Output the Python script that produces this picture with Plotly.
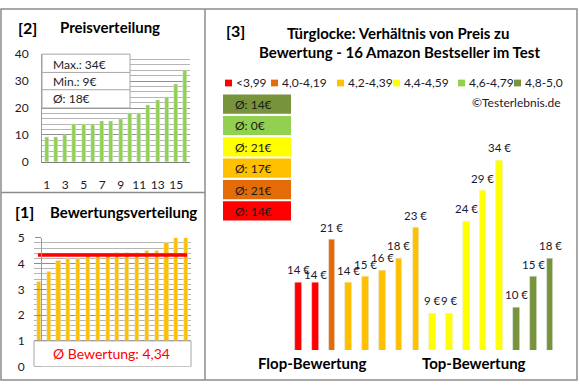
import plotly.graph_objects as go

# ---------------- data ----------------
# products in the order of panel [3] (grouped by rating band, ascending price)
prices = [14, 14, 21, 14, 15, 16, 18, 23, 9, 9, 24, 29, 34, 10, 15, 18]
ratings = [3.3, 3.7, 4.1, 4.2, 4.2, 4.3, 4.3, 4.3, 4.4, 4.4, 4.4, 4.5, 4.5, 4.8, 5.0, 5.0]
band_of_product = [0, 0, 1, 2, 2, 2, 2, 2, 3, 3, 3, 3, 3, 5, 5, 5]
band_labels = ["<3,99", "4,0-4,19", "4,2-4,39", "4,4-4,59", "4,6-4,79", "4,8-5,0"]
band_colors = ["#FF0000", "#E36C09", "#FFC000", "#FFFF00", "#92D050", "#77933C"]
price_ticks = [0, 10, 20, 30, 40]
rank_ticks = [1, 3, 5, 7, 9, 11, 13, 15]
rating_ticks = [0, 1, 2, 3, 4, 5]

W, H = 580, 390
FONT = "Lato"
GRAY = "#8c8c8c"


def px(x):
    return x / W


def py(y):
    return 1 - y / H


def dxd(a, b):
    return [a / W, b / W]


def dyd(top, bottom):
    return [1 - bottom / H, 1 - top / H]


n = len(prices)
sorted_prices = sorted(prices)
sorted_ratings = sorted(ratings)
idx = list(range(1, n + 1))
mean_price = sum(prices) / n
mean_rating = sum(ratings) / n

fig = go.Figure()

# panel [2] price distribution
fig.add_trace(go.Bar(x=idx, y=sorted_prices, marker_color="#92D050", width=0.45,
                     xaxis="x", yaxis="y", showlegend=False, hoverinfo="skip"))
# panel [1] rating distribution
fig.add_trace(go.Bar(x=idx, y=sorted_ratings, marker_color="#FFC000", width=0.42,
                     xaxis="x2", yaxis="y2", showlegend=False, hoverinfo="skip"))
fig.add_trace(go.Scatter(x=[0.9, 16.1], y=[mean_rating, mean_rating], mode="lines",
                         line=dict(color="#FF0000", width=3.5),
                         xaxis="x2", yaxis="y2", showlegend=False, hoverinfo="skip"))
# panel [3] price vs rating
fig.add_trace(go.Bar(x=idx, y=prices, marker_color=[band_colors[b] for b in band_of_product],
                     width=0.4, xaxis="x3", yaxis="y3", showlegend=False, hoverinfo="skip"))

tickfont = dict(family=FONT, size=12, color="#1a1a2e")

fig.update_layout(
    width=W, height=H, margin=dict(l=0, r=0, t=0, b=0),
    paper_bgcolor="white", plot_bgcolor="white", bargap=0,
    font=dict(family=FONT, color="black"),
    xaxis=dict(domain=dxd(42, 190), range=[0.5, 16.5], tickvals=rank_ticks,
               showgrid=False, showline=True, linecolor="#7f7f7f", ticks="",
               tickfont=tickfont, ticklabelstandoff=12, fixedrange=True),
    yaxis=dict(domain=dyd(48, 160), range=[0, 40], tickvals=price_ticks,
               showgrid=True, gridcolor="#8f8f8f", gridwidth=1,
               minor=dict(dtick=2, showgrid=True, gridcolor="#b5b5b5", gridwidth=1),
               showline=True, linecolor="#9a9a9a", ticks="", zeroline=False,
               tickfont=tickfont, ticklabelstandoff=10, fixedrange=True),
    xaxis2=dict(domain=dxd(34, 191), range=[0.5, 16.5], showticklabels=False,
                showgrid=False, showline=False, ticks="", fixedrange=True),
    yaxis2=dict(domain=dyd(239, 373), range=[0, 5], tickvals=rating_ticks,
                showgrid=True, gridcolor="#8f8f8f", gridwidth=1,
                minor=dict(dtick=0.2, showgrid=True, gridcolor="#b5b5b5", gridwidth=1),
                showline=True, linecolor="#9a9a9a", ticks="outside", ticklen=6,
                tickcolor="#8c8c8c", zeroline=False,
                tickfont=tickfont, ticklabelstandoff=8, fixedrange=True),
    xaxis3=dict(domain=dxd(289.9, 558.4), range=[0.5, 16.5], visible=False, fixedrange=True),
    yaxis3=dict(domain=dyd(120, 355.7), range=[3, 40], visible=False, fixedrange=True),
)

shapes = []
ann = []

# frame
shapes.append(dict(type="rect", xref="paper", yref="paper", x0=px(1), x1=px(577),
                   y0=py(387), y1=py(1), line=dict(color=GRAY, width=1.5)))
shapes.append(dict(type="line", xref="paper", yref="paper", x0=px(205), x1=px(205),
                   y0=py(387), y1=py(1), line=dict(color=GRAY, width=1.5)))
shapes.append(dict(type="line", xref="paper", yref="paper", x0=px(1), x1=px(205),
                   y0=py(192), y1=py(192), line=dict(color=GRAY, width=1.5)))

# info box panel [2]
shapes.append(dict(type="rect", xref="paper", yref="paper", x0=px(42), x1=px(130),
                   y0=py(104), y1=py(48), fillcolor="white", line=dict(color="#a6a6a6", width=1)))
for yy in (67, 85):
    shapes.append(dict(type="line", xref="paper", yref="paper", x0=px(42), x1=px(130),
                       y0=py(yy), y1=py(yy), line=dict(color="#a6a6a6", width=1)))
info = [("Max.: %d€" % max(prices), 58.5), ("Min.: %d€" % min(prices), 76.5),
        ("Ø: %d€" % round(mean_price), 94)]
for t, yy in info:
    ann.append(dict(text=t, xref="paper", yref="paper", x=px(51), y=py(yy),
                    xanchor="left", yanchor="middle", showarrow=False,
                    font=dict(family=FONT, size=12, color="#222")))

# box panel [1]
shapes.append(dict(type="rect", xref="x2 domain", yref="y2", x0=0, x1=1, y0=0, y1=1,
                   fillcolor="white", line=dict(color="#a6a6a6", width=1)))
ann.append(dict(text="Ø Bewertung: " + ("%.2f" % mean_rating).replace(".", ","),
                xref="paper", yref="paper", x=px(111), y=py(359), xanchor="center",
                yanchor="middle", showarrow=False,
                font=dict(family=FONT, size=14, color="#FF0000")))

# titles
title_font = dict(family=FONT, size=15, color="black", weight="bold")
ann.append(dict(text="[2]", xref="paper", yref="paper", x=px(16), y=py(20), xanchor="left",
                yanchor="middle", showarrow=False, font=dict(family=FONT, size=16, color="black", weight="bold")))
ann.append(dict(text="Preisverteilung", xref="paper", yref="paper", x=px(58), y=py(20),
                xanchor="left", yanchor="middle", showarrow=False, font=title_font))
ann.append(dict(text="[1]", xref="paper", yref="paper", x=px(13), y=py(212), xanchor="left",
                yanchor="middle", showarrow=False, font=dict(family=FONT, size=16, color="black", weight="bold")))
ann.append(dict(text="Bewertungsverteilung", xref="paper", yref="paper", x=px(48), y=py(212),
                xanchor="left", yanchor="middle", showarrow=False, font=title_font))
ann.append(dict(text="[3]", xref="paper", yref="paper", x=px(224), y=py(23), xanchor="left",
                yanchor="middle", showarrow=False, font=dict(family=FONT, size=16, color="black", weight="bold")))
ann.append(dict(text="Türglocke: Verhältnis von Preis zu", xref="paper", yref="paper",
                x=px(398), y=py(26), xanchor="center", yanchor="middle", showarrow=False,
                font=title_font))
ann.append(dict(text="Bewertung - %d Amazon Bestseller im Test" % n, xref="paper", yref="paper",
                x=px(399), y=py(46), xanchor="center", yanchor="middle", showarrow=False,
                font=title_font))

# legend row
leg_x = [225, 271, 337, 393, 458, 514]
for i, lab in enumerate(band_labels):
    x0 = leg_x[i]
    shapes.append(dict(type="rect", xref="paper", yref="paper", x0=px(x0), x1=px(x0 + 7),
                       y0=py(81.5), y1=py(74.5), fillcolor=band_colors[i], line=dict(width=0)))
    ann.append(dict(text=lab.replace("<", "&lt;"), xref="paper", yref="paper", x=px(x0 + 9),
                    y=py(78), xanchor="left", yanchor="middle", showarrow=False,
                    font=dict(family=FONT, size=12, color="#1a1a2e")))
ann.append(dict(text="©Testerlebnis.de", xref="paper", yref="paper", x=px(563), y=py(98),
                xanchor="right", yanchor="middle", showarrow=False,
                font=dict(family=FONT, size=12, color="#1a1a2e")))

# band average boxes
for k, b in enumerate(reversed(range(len(band_labels)))):
    vals = [p for p, bb in zip(prices, band_of_product) if bb == b]
    avg = round(sum(vals) / len(vals)) if vals else 0
    top = 90 + k * 22.2
    shapes.append(dict(type="rect", xref="paper", yref="paper", x0=px(223), x1=px(291),
                       y0=py(top + 20), y1=py(top), fillcolor=band_colors[b], line=dict(width=0)))
    ann.append(dict(text="Ø: %d€" % avg, xref="paper", yref="paper", x=px(233), y=py(top + 10.5),
                    xanchor="left", yanchor="middle", showarrow=False,
                    font=dict(family=FONT, size=12, color="#1a1a1a")))

# value labels panel [3] (slightly smaller so neighbouring labels crowd less)
label_shift = [5, 0, 4, 4, 4, 4, 4, 4, 4, 4, 4, 4, 4, 4, 4, 4]
for i, p in enumerate(prices):
    ann.append(dict(text="%d €" % p, xref="x3", yref="y3", x=i + 1, y=p, xanchor="center",
                    yanchor="bottom", yshift=label_shift[i], showarrow=False,
                    font=dict(family=FONT, size=11.5, color="#1a1a2e")))

ann.append(dict(text="Flop-Bewertung", xref="paper", yref="paper", x=px(312), y=py(369),
                xanchor="center", yanchor="middle", showarrow=False, font=title_font))
ann.append(dict(text="Top-Bewertung", xref="paper", yref="paper", x=px(474), y=py(369),
                xanchor="center", yanchor="middle", showarrow=False, font=title_font))

fig.update_layout(shapes=shapes, annotations=ann)
fig.write_html("out.html", config={"displayModeBar": False},
               post_script="document.body.style.margin='0';")
